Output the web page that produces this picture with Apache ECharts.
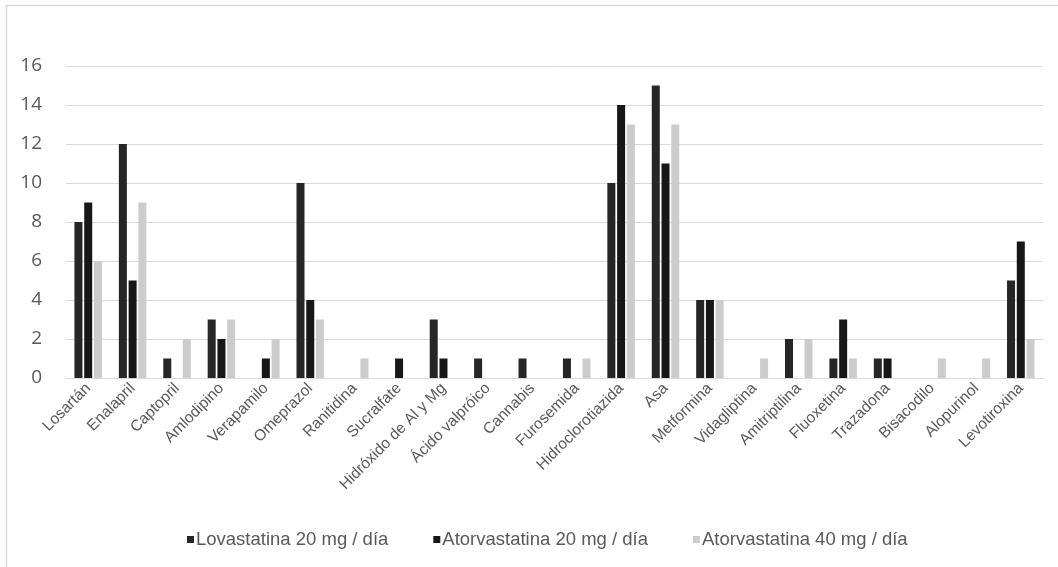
<!DOCTYPE html>
<html>
<head>
<meta charset="utf-8">
<script src="https://cdn.jsdelivr.net/npm/echarts@6/dist/echarts.min.js"></script>
<style>
  html, body { margin: 0; padding: 0; background: #fff; }
  #chart { width: 1058px; height: 567px; }
</style>
</head>
<body>
<div id="chart"></div>
<script>
// Medicamentos concomitantes por esquema de estatina
const categories = [
  'Losartán', 'Enalapril', 'Captopril', 'Amlodipino', 'Verapamilo', 'Omeprazol',
  'Ranitidina', 'Sucralfate', 'Hidróxido de Al y Mg', 'Ácido valpróico', 'Cannabis',
  'Furosemida', 'Hidroclorotiazida', 'Asa', 'Metformina', 'Vidagliptina',
  'Amitriptilina', 'Fluoxetina', 'Trazadona', 'Bisacodilo', 'Alopurinol', 'Levotiroxina'
];
const lovastatina20 = [8, 12, 1, 3, 0, 10, 0, 0, 3, 1, 1, 1, 10, 15, 4, 0, 2, 1, 1, 0, 0, 5];
const atorvastatina20 = [9, 5, 0, 2, 1, 4, 0, 1, 1, 0, 0, 0, 14, 11, 4, 0, 0, 3, 1, 0, 0, 7];
const atorvastatina40 = [6, 9, 2, 3, 2, 3, 1, 0, 0, 0, 0, 1, 13, 13, 4, 1, 2, 1, 0, 1, 1, 2];
const seriesNames = ['Lovastatina 20 mg / día', 'Atorvastatina 20 mg / día', 'Atorvastatina 40 mg / día'];
const yTicks = { min: 0, max: 16, interval: 2 };

const colors = ['#262626', '#171717', '#cccccc'];
const textColor = '#595959';
const gridColor = '#d9d9d9';
const font = 'Liberation Sans, Arial, sans-serif';

const chart = echarts.init(document.getElementById('chart'), null, { renderer: 'canvas' });

// Zero values are left out so no stub is drawn on the axis
const toBars = arr => arr.map(v => (v === 0 ? null : v));

const mkSeries = (name, data, color) => ({
  name,
  type: 'bar',
  data: toBars(data),
  barWidth: 8,
  barGap: '22%',
  itemStyle: { color },
  emphasis: { disabled: true }
});

chart.setOption({
  animation: false,
  backgroundColor: '#ffffff',
  color: colors,
  graphic: [{
    type: 'rect',
    shape: { x: 6.5, y: 5.5, width: 1200, height: 700 },
    style: { fill: 'none', stroke: gridColor, lineWidth: 1.5 },
    silent: true,
    z: -1
  }],
  grid: { left: 66, right: 15, top: 66, bottom: 189, containLabel: false },
  legend: {
    top: 525,
    left: 182,
    itemWidth: 7,
    itemHeight: 7,
    itemGap: 45,
    icon: 'rect',
    textStyle: { color: textColor, fontSize: 18.5, fontFamily: font, padding: [0, 0, 0, -3] },
    data: seriesNames
  },
  xAxis: {
    type: 'category',
    data: categories,
    axisLine: { show: true, lineStyle: { color: gridColor, width: 1 } },
    axisTick: { show: false },
    axisLabel: {
      interval: 0,
      rotate: 45,
      margin: 8,
      color: textColor,
      fontSize: 15.5,
      fontFamily: font
    }
  },
  yAxis: {
    type: 'value',
    min: yTicks.min,
    max: yTicks.max,
    interval: yTicks.interval,
    axisLine: { show: false },
    axisTick: { show: false },
    splitLine: { lineStyle: { color: gridColor, width: 1 } },
    axisLabel: {
      margin: 24,
      color: textColor,
      fontSize: 19,
      fontFamily: 'Open Sans, Liberation Sans, sans-serif'
    }
  },
  series: [
    mkSeries(seriesNames[0], lovastatina20, colors[0]),
    mkSeries(seriesNames[1], atorvastatina20, colors[1]),
    mkSeries(seriesNames[2], atorvastatina40, colors[2])
  ]
});
</script>
</body>
</html>
